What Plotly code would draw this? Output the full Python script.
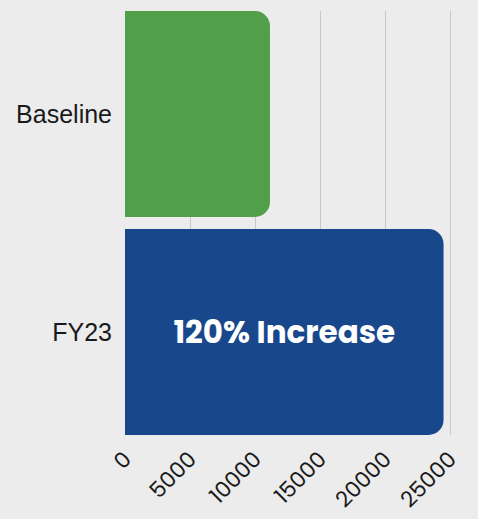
import plotly.graph_objects as go

categories = ["Baseline", "FY23"]
values = [11150, 24500]
bar_colors = ["#519f48", "#19478c"]
bar_labels = ["", "120% Increase"]
tick_vals = [0, 5000, 10000, 15000, 20000, 25000]
tick_text = ["0", "5000", "10000", "15000", "20000", "25000"]

fig = go.Figure(go.Bar(
    x=values,
    y=categories,
    orientation="h",
    marker=dict(color=bar_colors, line=dict(width=0)),
    text=bar_labels,
    textposition="inside",
    insidetextanchor="middle",
    textfont=dict(family="Poppins, Inter", size=31, color="white", weight="bold"),
    hoverinfo="skip",
))

fig.update_layout(
    width=478,
    height=519,
    margin=dict(l=125, r=26, t=11, b=84),
    paper_bgcolor="#ececec",
    plot_bgcolor="#ececec",
    bargap=0.055,
    barcornerradius=15,
    showlegend=False,
    font=dict(family="Liberation Sans, Arial", color="#1a1a1a"),
    xaxis=dict(
        range=[0, 25150],
        tickvals=tick_vals,
        ticktext=tick_text,
        tickangle=-45,
        tickfont=dict(family="Poppins, Inter", size=22),
        ticklabelstandoff=6,
        showgrid=True,
        gridcolor="#c8c8c8",
        gridwidth=1,
        zeroline=False,
        showline=False,
        automargin=False,
    ),
    yaxis=dict(
        range=[1.4725, -0.4725],
        tickfont=dict(size=25),
        ticklabelstandoff=12,
        showgrid=False,
        showline=False,
        ticks="",
        automargin=False,
    ),
)

fig.write_html(
    "out.html",
    config=dict(displayModeBar=False),
    post_script="document.body.style.margin='0';document.body.style.overflow='hidden';",
)
